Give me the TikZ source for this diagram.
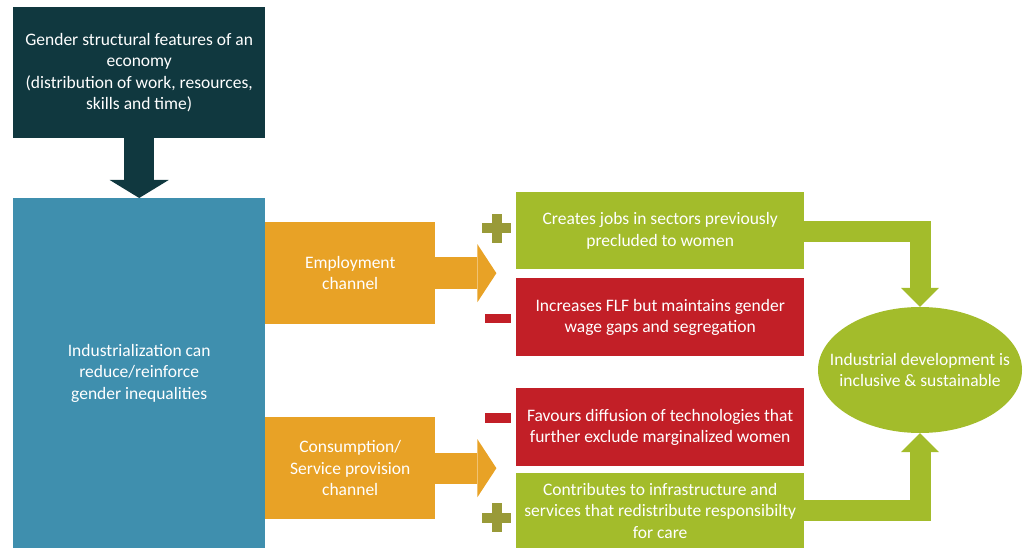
\documentclass[tikz,border=0pt]{standalone}
\usepackage{fontspec}
\setmainfont{Carlito}
\usetikzlibrary{arrows.meta,shapes.geometric,calc}

\definecolor{darkteal}{HTML}{10383F}
\definecolor{steelblue}{HTML}{3F8FAE}
\definecolor{ochre}{HTML}{E8A226}
\definecolor{leaf}{HTML}{A3BC2B}
\definecolor{brick}{HTML}{C21F27}
\definecolor{olive}{HTML}{999A38}

\tikzset{
    box/.style = {rectangle, anchor = north west, inner sep = 0pt, align = center,
        text = white, font = \fontsize{17.5}{21.5}\selectfont},
    blockarrow/.style = {line width = #1, line join = miter},
}

\begin{document}
\begin{tikzpicture}[x = 1pt, y = -1pt]
    \useasboundingbox (0,0) rectangle (1023,548);

    % left column
    \node (econ) at (13,7) [box, fill = darkteal, minimum width = 252pt, minimum height = 131pt]
        {Gender structural features of an\\economy\\(distribution of work, resources,\\skills and time)};
    \node (indus) at (13,198) [box, fill = steelblue, minimum width = 252pt, minimum height = 350pt]
        {Industrialization can\\reduce/reinforce\\gender inequalities};
    \draw [blockarrow = 30pt, darkteal, -{Triangle[width = 59pt, length = 18pt, line width = 0pt]}]
        (econ.south) -- (indus.north);

    % channels
    \node (emp) at (265,222) [box, fill = ochre, minimum width = 170pt, minimum height = 102pt]
        {Employment\\channel};
    \node (cons) at (265,417) [box, fill = ochre, minimum width = 170pt, minimum height = 102pt]
        {Consumption/\\Service provision\\channel};
    \coordinate (empTip) at ($(emp.east) + (61,0)$);
    \coordinate (consTip) at ($(cons.east) + (61,0)$);
    \draw [blockarrow = 32pt, ochre, -{Triangle[width = 58pt, length = 19pt, line width = 0pt]}]
        (emp.east) -- (empTip);
    \draw [blockarrow = 31pt, ochre, -{Triangle[width = 58pt, length = 19pt, line width = 0pt]}]
        (cons.east) -- (consTip);

    % effects
    \node (jobs) at (516,192) [box, fill = leaf, minimum width = 288pt, minimum height = 77pt]
        {Creates jobs in sectors previously\\precluded to women};
    \node (wage) at (516,278) [box, fill = brick, minimum width = 288pt, minimum height = 78pt]
        {Increases FLF but maintains gender\\wage gaps and segregation};
    \node (tech) at (516,388) [box, fill = brick, minimum width = 288pt, minimum height = 78pt]
        {Favours diffusion of technologies that\\further exclude marginalized women};
    \node (care) at (516,473) [box, fill = leaf, minimum width = 288pt, minimum height = 75pt]
        {Contributes to infrastructure and\\services that redistribute responsibilty\\for care};

    % plus and minus marks
    \fill [olive] (482,223) rectangle (511,233);
    \fill [olive] (491.5,214) rectangle (501.5,243);
    \fill [brick] (485,314) rectangle (511,323);
    \fill [brick] (485,413) rectangle (511,423);
    \fill [olive] (482,512.5) rectangle (511,522.5);
    \fill [olive] (491.5,503) rectangle (501.5,532);

    % outcome
    \node (goal) at (920,370) [ellipse, fill = leaf, inner xsep = -20pt, inner ysep = 0pt,
        minimum width = 204pt, minimum height = 126pt, align = center, text = white,
        font = \fontsize{17.5}{21.5}\selectfont]
        {Industrial development is\\inclusive \& sustainable};
    \draw [blockarrow = 21pt, leaf, -{Triangle[width = 38pt, length = 19pt, line width = 0pt]}]
        ($(jobs.east) + (0,1)$) -| (goal.north);
    \draw [blockarrow = 21pt, leaf, -{Triangle[width = 38pt, length = 19pt, line width = 0pt]}]
        (care.east) -| (goal.south);
\end{tikzpicture}
\end{document}
